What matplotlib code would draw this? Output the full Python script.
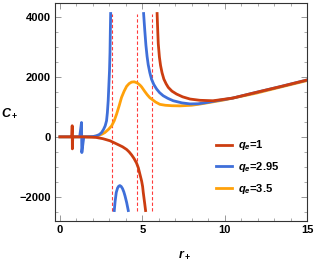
import matplotlib
matplotlib.use("Agg")
import matplotlib.pyplot as plt
from matplotlib.ticker import MultipleLocator

plt.rcParams['font.family'] = ['Liberation Sans', 'DejaVu Sans']
plt.rcParams['mathtext.fontset'] = 'custom'
plt.rcParams['mathtext.it'] = 'Liberation Sans:italic:bold'
plt.rcParams['mathtext.rm'] = 'Liberation Sans:bold'
plt.rcParams['mathtext.bf'] = 'Liberation Sans:bold'

# q_e = 1
r1a = [0, 0.5, 0.72, 0.745, 0.755, 0.78, 1.0, 1.4, 2.2, 2.6, 3.04, 3.5, 3.8, 4.05, 4.2, 4.35, 4.5, 4.65,
       4.76, 4.86, 4.96, 5.02, 5.06, 5.1, 5.15, 5.2]
c1a = [0, 0, 0, 370, -400, 0, 0, 0, -20, -60, -130, -250, -330, -420, -500, -600, -720, -870,
       -1030, -1250, -1470, -1650, -1850, -2020, -2230, -2450]
r1b = [5.90, 5.94, 5.97, 6.04, 6.11, 6.2, 6.31, 6.45, 6.58, 6.8, 7.08, 7.45, 7.9, 8.5, 9.3, 10.5, 11.9, 13.36, 15]
c1b = [4100, 3500, 3100, 2650, 2370, 2130, 1920, 1760, 1643, 1520, 1423, 1330, 1257, 1215, 1200, 1290, 1477, 1667, 1890]

# q_e = 2.95
r2a = [0, 1.2, 1.31, 1.33, 1.45, 2.0, 2.2, 2.4, 2.53, 2.65, 2.75, 2.83, 2.88, 2.93, 2.97, 3.01, 3.04, 3.06, 3.08]
c2a = [0, 0, 477, -523, 0, 10, 30, 80, 143, 250, 370, 533, 800, 1200, 1700, 2200, 2800, 3500, 4100]
r2b = [3.3, 3.35, 3.42, 3.5, 3.57, 3.64, 3.72, 3.8, 3.88, 3.95, 4.05, 4.15]
c2b = [-2450, -2150, -1850, -1700, -1640, -1620, -1650, -1720, -1830, -1960, -2180, -2450]
r2c = [5.08, 5.15, 5.22, 5.29, 5.36, 5.46, 5.56, 5.7, 5.87, 6.05, 6.27, 6.55, 6.88, 7.4, 7.9, 8.4, 8.9,
       9.5, 10.5, 11.9, 13.36, 15]
c2c = [4100, 3550, 3050, 2680, 2400, 2130, 1920, 1740, 1590, 1470, 1367, 1280, 1200, 1130, 1095, 1100, 1140,
       1200, 1290, 1477, 1667, 1890]

# q_e = 3.5
r3 = [0, 1.7, 2.0, 2.33, 2.55, 2.73, 2.95, 3.14, 3.3, 3.44, 3.6, 3.74, 3.9, 4.05, 4.2, 4.35, 4.51, 4.7,
      4.86, 4.96, 5.15, 5.3, 5.46, 5.56, 5.8, 6.07, 6.4, 6.8, 7.3, 8.0, 8.5, 9.9, 11.9, 13.36, 15]
c3 = [0, 0, 10, 40, 90, 143, 250, 367, 540, 757, 1040, 1310, 1520, 1680, 1770, 1820, 1830, 1790,
      1720, 1660, 1510, 1400, 1300, 1260, 1160, 1080, 1050, 1035, 1030, 1050, 1090, 1220, 1450, 1650, 1870]

asymptotes = [3.14, 4.69, 5.6]
labels = [r'$q_e$=1', r'$q_e$=2.95', r'$q_e$=3.5']
colors = ['#CC3D10', '#3F6FD9', '#FFA10A']

fig = plt.figure(figsize=(3.16, 2.61), dpi=100)
ax = fig.add_axes([0.174, 0.153, 0.7975, 0.8355])

lw = 2.0
for x in asymptotes:
    ax.vlines(x, -2450, 4100, colors='#FF3B3B', linestyles=(0, (3, 2)), linewidth=0.8, zorder=1)

ax.plot(r3, c3, color=colors[2], lw=lw, label=labels[2], zorder=2)
ax.plot(r2a, c2a, color=colors[1], lw=lw, label=labels[1], zorder=3)
ax.plot(r2b, c2b, color=colors[1], lw=lw, zorder=3)
ax.plot(r2c, c2c, color=colors[1], lw=lw, zorder=3)
ax.plot(r1a, c1a, color=colors[0], lw=lw, label=labels[0], zorder=4)
ax.plot(r1b, c1b, color=colors[0], lw=lw, zorder=4)

ax.set_xlim(-0.3, 15)
ax.set_ylim(-2800, 4450)
ax.xaxis.set_minor_locator(MultipleLocator(1))
ax.yaxis.set_minor_locator(MultipleLocator(500))
ax.tick_params(which='both', direction='in', top=True, right=True, color='#888888')
ax.tick_params(which='major', length=4, width=0.6, labelsize=8, pad=3)
ax.tick_params(which='minor', length=2, width=0.5)
ax.set_yticks([-2000, 0, 2000, 4000])
ax.set_yticklabels(['\u22122000', '0', '2000', '4000'], fontweight='bold')
ax.set_xticks([0, 5, 10, 15])
ax.set_xticklabels(['0', '5', '10', '15'], fontweight='bold')
for s in ax.spines.values():
    s.set_color('#333333')
    s.set_linewidth(0.8)

ax.text(-0.18, 0.495, r'$C_+$', transform=ax.transAxes, fontsize=9, ha='center', va='center')
ax.text(0.516, -0.156, r'$r_+$', transform=ax.transAxes, fontsize=9, ha='center', va='center')

h, l = ax.get_legend_handles_labels()
order = [2, 1, 0]
leg = ax.legend([h[i] for i in order], [l[i] for i in order], loc='upper left',
                bbox_to_anchor=(0.6, 0.425), frameon=False, handlelength=1.4,
                handletextpad=0.6, labelspacing=0.7, prop={'weight': 'bold', 'size': 8})

fig.savefig('out.png', dpi=100)
